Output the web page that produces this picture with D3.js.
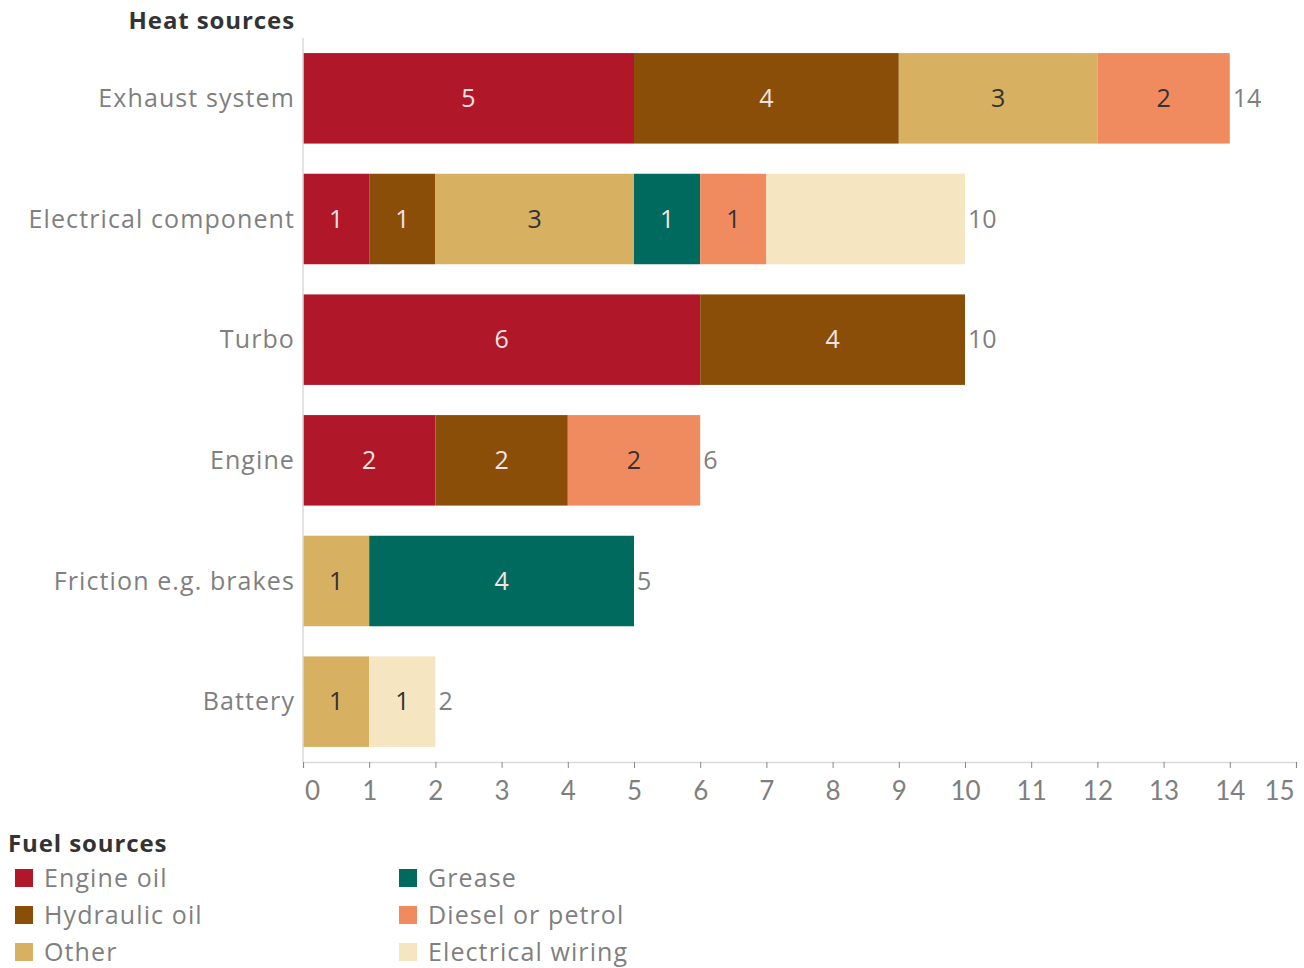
<!DOCTYPE html>
<html>
<head>
<meta charset="utf-8">
<script src="https://cdn.jsdelivr.net/npm/d3@7"></script>
<style>
  html, body { margin: 0; padding: 0; background: #fff; }
  svg { display: block; font-family: "Open Sans", Lato, sans-serif; }
</style>
</head>
<body>
<svg id="chart" width="1304" height="968"></svg>
<script>
// Heat sources (rows) and fuel sources (stacked segments)
const heatSources = ["Exhaust system", "Electrical component", "Turbo", "Engine", "Friction e.g. brakes", "Battery"];
const fuelSources = ["Engine oil", "Hydraulic oil", "Other", "Grease", "Diesel or petrol", "Electrical wiring"];
const fuelColors = ["#B01729", "#8B4E08", "#D8B062", "#006A5F", "#F08B60", "#F5E6C1"];

// Counts per heat source, one array per fuel source (order follows heatSources)
const engineOil       = [5, 1, 6, 2, 0, 0];
const hydraulicOil    = [4, 1, 4, 2, 0, 0];
const other           = [3, 3, 0, 0, 1, 1];
const grease          = [0, 1, 0, 0, 4, 0];
const dieselOrPetrol  = [2, 1, 0, 2, 0, 0];
const electricalWiring = [0, 3, 0, 0, 0, 1];

// Segments whose value is not printed inside the bar
const unlabelled = [["Electrical component", "Electrical wiring"]];

const xTicks = d3.range(0, 16);

const seriesValues = [engineOil, hydraulicOil, other, grease, dieselOrPetrol, electricalWiring];
const rows = heatSources.map((h, i) => {
  const r = { source: h };
  fuelSources.forEach((f, j) => { r[f] = seriesValues[j][i]; });
  r.total = d3.sum(fuelSources, f => r[f]);
  return r;
});

const svg = d3.select("#chart");
const x = d3.scaleLinear().domain([0, 15]).range([303, 1296]);
const y = d3.scaleBand().domain(heatSources).range([38, 762]).paddingInner(0.25).paddingOuter(0.125);
const color = d3.scaleOrdinal().domain(fuelSources).range(fuelColors);
const darkFills = new Set(["Engine oil", "Hydraulic oil", "Grease"]);

const stacked = d3.stack().keys(fuelSources)(rows);

// Bars
const layer = svg.append("g").selectAll("g").data(stacked).join("g")
  .attr("fill", d => color(d.key));
layer.selectAll("rect").data(d => d.map(v => Object.assign(v, { key: d.key })))
  .join("rect")
  .filter(d => d[1] > d[0])
  .attr("x", d => x(d[0]))
  .attr("y", d => y(d.data.source))
  .attr("width", d => x(d[1]) - x(d[0]))
  .attr("height", y.bandwidth());

// Segment labels
const segs = [];
stacked.forEach(s => s.forEach(d => {
  if (d[1] > d[0] && !unlabelled.some(u => u[0] === d.data.source && u[1] === s.key)) {
    segs.push({ key: s.key, x0: d[0], x1: d[1], source: d.data.source });
  }
}));
svg.append("g").selectAll("text").data(segs).join("text")
  .attr("x", d => (x(d.x0) + x(d.x1)) / 2)
  .attr("y", d => y(d.source) + y.bandwidth() / 2)
  .attr("dy", "0.35em")
  .attr("text-anchor", "middle")
  .attr("font-size", 25)
  .attr("fill", d => darkFills.has(d.key) ? "#F3E3E3" : "#333333")
  .text(d => d.x1 - d.x0);

// Totals
svg.append("g").selectAll("text").data(rows).join("text")
  .attr("x", d => x(d.total) + 3)
  .attr("y", d => y(d.source) + y.bandwidth() / 2)
  .attr("dy", "0.35em")
  .attr("font-size", 25)
  .attr("fill", "#7F7F7F")
  .text(d => d.total);

// Category labels
svg.append("g").selectAll("text").data(heatSources).join("text")
  .attr("x", 295)
  .attr("y", d => y(d) + y.bandwidth() / 2)
  .attr("dy", "0.35em")
  .attr("text-anchor", "end")
  .attr("font-size", 25)
  .attr("letter-spacing", 1.1)
  .attr("fill", "#7F7F7F")
  .text(d => d);

// Axes frame
svg.append("line").attr("x1", 303).attr("x2", 303).attr("y1", 38).attr("y2", 762)
  .attr("stroke", "#DADADA").attr("stroke-width", 1.5);

const xAxis = svg.append("g").attr("transform", "translate(0,762)")
  .call(d3.axisBottom(x).tickValues(xTicks).tickSize(6).tickPadding(14).tickFormat(d3.format("d")));
xAxis.select(".domain").attr("stroke", "#DADADA").attr("stroke-width", 1.5);
xAxis.selectAll(".tick line").attr("stroke", "#888");
xAxis.selectAll(".tick text")
  .attr("font-family", "Lato, sans-serif")
  .attr("font-size", 26)
  .attr("fill", "#7F7F7F")
  .attr("dx", d => d === 0 ? 9 : d === 15 ? -17 : 0);

// Titles
svg.append("text").attr("x", 295).attr("y", 29).attr("text-anchor", "end")
  .attr("font-size", 24).attr("font-weight", 700).attr("letter-spacing", 0.9).attr("fill", "#333333")
  .text("Heat sources");

svg.append("text").attr("x", 8).attr("y", 852)
  .attr("font-size", 24).attr("font-weight", 700).attr("letter-spacing", 0.9).attr("fill", "#333333")
  .text("Fuel sources");

// Legend
const legend = svg.append("g").selectAll("g").data(fuelSources).join("g")
  .attr("transform", (d, i) => `translate(${i < 3 ? 15 : 399},${869 + (i % 3) * 37})`);
legend.append("rect").attr("width", 18).attr("height", 18).attr("fill", d => color(d));
legend.append("text").attr("x", 29).attr("y", 9).attr("dy", "0.35em")
  .attr("font-size", 25).attr("letter-spacing", 1.1).attr("fill", "#7F7F7F").text(d => d);
</script>
</body>
</html>
